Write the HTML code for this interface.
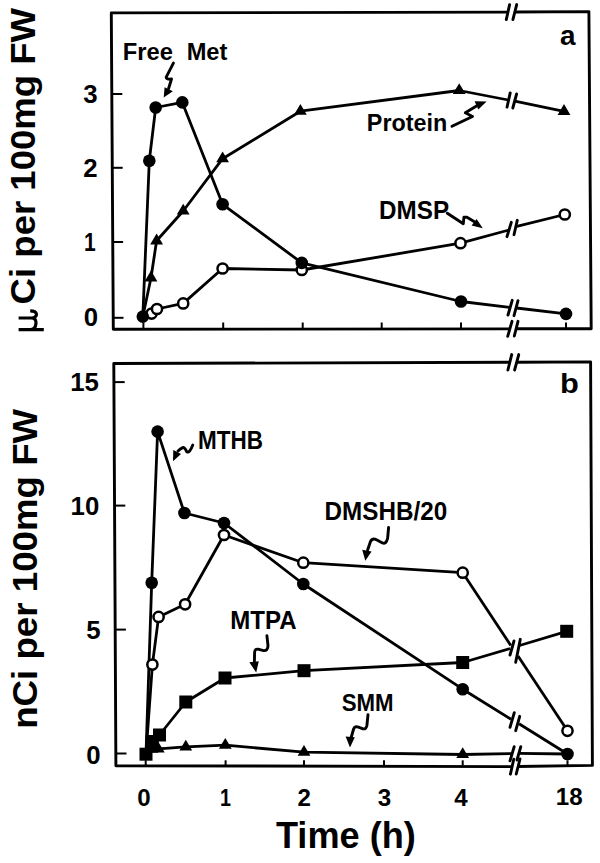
<!DOCTYPE html>
<html><head><meta charset="utf-8"><style>
html,body{margin:0;padding:0;background:#fff;}
svg{display:block;}
</style></head><body>
<svg width="600" height="863" viewBox="0 0 600 863">
<rect width="600" height="863" fill="#fff"/>
<polyline points="507.9,12.1 111.3,12.9 113.3,329.3 509.9,328.9" fill="none" stroke="#000" stroke-width="2.9" stroke-linejoin="round" stroke-linecap="butt"/>
<polyline points="514.8,12.0 588.9,11.6 591.2,328.7 516.2,328.7" fill="none" stroke="#000" stroke-width="2.9" stroke-linejoin="round" stroke-linecap="butt"/>
<line x1="509.6" y1="4.6" x2="506.3" y2="19.6" stroke="#000" stroke-width="2.9" stroke-linecap="round"/>
<line x1="516.7" y1="4.6" x2="512.9" y2="19.6" stroke="#000" stroke-width="2.9" stroke-linecap="round"/>
<line x1="512.0" y1="321.3" x2="507.7" y2="336.3" stroke="#000" stroke-width="2.9" stroke-linecap="round"/>
<line x1="518.0" y1="321.3" x2="514.3" y2="336.0" stroke="#000" stroke-width="2.9" stroke-linecap="round"/>
<line x1="111.8" y1="94.0" x2="122.3" y2="94.0" stroke="#000" stroke-width="2"/>
<line x1="112.2" y1="167.8" x2="122.7" y2="167.8" stroke="#000" stroke-width="2"/>
<line x1="112.6" y1="242.0" x2="123.1" y2="242.0" stroke="#000" stroke-width="2"/>
<line x1="113.0" y1="317.8" x2="123.5" y2="317.8" stroke="#000" stroke-width="2"/>
<line x1="143.4" y1="328.5" x2="143.4" y2="322.5" stroke="#000" stroke-width="2"/>
<line x1="223.2" y1="328.5" x2="223.2" y2="322.5" stroke="#000" stroke-width="2"/>
<line x1="302.7" y1="328.5" x2="302.7" y2="322.5" stroke="#000" stroke-width="2"/>
<line x1="381.7" y1="328.5" x2="381.7" y2="322.5" stroke="#000" stroke-width="2"/>
<line x1="461.0" y1="328.5" x2="461.0" y2="322.5" stroke="#000" stroke-width="2"/>
<line x1="566.0" y1="328.5" x2="566.0" y2="322.5" stroke="#000" stroke-width="2"/>
<polyline points="509.8,362.3 113.8,363.5 115.9,765.7 512.1,766.6" fill="none" stroke="#000" stroke-width="2.9" stroke-linejoin="round" stroke-linecap="butt"/>
<polyline points="516.7,362.2 590.6,361.9 592.4,765.4 518.1,766.5" fill="none" stroke="#000" stroke-width="2.9" stroke-linejoin="round" stroke-linecap="butt"/>
<line x1="511.7" y1="354.6" x2="507.9" y2="370.0" stroke="#000" stroke-width="2.9" stroke-linecap="round"/>
<line x1="518.75" y1="354.6" x2="514.6" y2="370.0" stroke="#000" stroke-width="2.9" stroke-linecap="round"/>
<line x1="513.75" y1="759.2" x2="510.4" y2="774.2" stroke="#000" stroke-width="2.9" stroke-linecap="round"/>
<line x1="520.0" y1="759.0" x2="516.25" y2="774.0" stroke="#000" stroke-width="2.9" stroke-linecap="round"/>
<line x1="114.2" y1="382.1" x2="124.7" y2="382.1" stroke="#000" stroke-width="2"/>
<line x1="114.8" y1="505.6" x2="125.3" y2="505.6" stroke="#000" stroke-width="2"/>
<line x1="115.4" y1="629.6" x2="125.9" y2="629.6" stroke="#000" stroke-width="2"/>
<line x1="116.0" y1="753.5" x2="126.5" y2="753.5" stroke="#000" stroke-width="2"/>
<line x1="145.7" y1="765.5" x2="145.7" y2="760.3" stroke="#000" stroke-width="2"/>
<line x1="225.6" y1="765.5" x2="225.6" y2="760.3" stroke="#000" stroke-width="2"/>
<line x1="304.0" y1="765.5" x2="304.0" y2="760.3" stroke="#000" stroke-width="2"/>
<line x1="384.0" y1="765.5" x2="384.0" y2="760.3" stroke="#000" stroke-width="2"/>
<line x1="462.7" y1="765.5" x2="462.7" y2="760.3" stroke="#000" stroke-width="2"/>
<line x1="567.5" y1="765.5" x2="567.5" y2="760.3" stroke="#000" stroke-width="2"/>
<polyline points="142.8,316.6 149.3,160.7 155.7,107.5 182.3,102.4 222.6,204.3 301.8,262.9 461.0,301.5 509.5,307.3" fill="none" stroke="#000" stroke-width="2.8" stroke-linejoin="round" stroke-linecap="butt"/>
<polyline points="516.5,308.0 566.0,313.9" fill="none" stroke="#000" stroke-width="2.8" stroke-linejoin="round" stroke-linecap="butt"/>
<line x1="512.2" y1="300.3" x2="508.0" y2="315.0" stroke="#000" stroke-width="2.9" stroke-linecap="round"/>
<line x1="518.0" y1="300.7" x2="514.0" y2="315.7" stroke="#000" stroke-width="2.9" stroke-linecap="round"/>
<polyline points="142.8,316.6 151.0,277.8 156.6,240.8 183.2,211.0 222.6,158.7 300.4,111.2 459.2,90.5 508.3,100.0" fill="none" stroke="#000" stroke-width="2.8" stroke-linejoin="round" stroke-linecap="butt"/>
<polyline points="514.8,101.2 564.0,111.3" fill="none" stroke="#000" stroke-width="2.8" stroke-linejoin="round" stroke-linecap="butt"/>
<line x1="510.2" y1="92.9" x2="507.0" y2="107.2" stroke="#000" stroke-width="2.9" stroke-linecap="round"/>
<line x1="516.6" y1="94.0" x2="512.8" y2="108.0" stroke="#000" stroke-width="2.9" stroke-linecap="round"/>
<polyline points="142.8,316.6 151.6,313.6 157.0,309.0 183.2,303.4 222.6,268.5 301.8,270.0 460.5,243.2 509.0,230.0" fill="none" stroke="#000" stroke-width="2.8" stroke-linejoin="round" stroke-linecap="butt"/>
<polyline points="515.8,226.6 564.8,214.5" fill="none" stroke="#000" stroke-width="2.8" stroke-linejoin="round" stroke-linecap="butt"/>
<line x1="511.3" y1="222.3" x2="507.0" y2="236.7" stroke="#000" stroke-width="2.9" stroke-linecap="round"/>
<line x1="517.3" y1="220.3" x2="514.0" y2="234.7" stroke="#000" stroke-width="2.9" stroke-linecap="round"/>
<circle cx="151.6" cy="313.6" r="5.1" fill="#fff" stroke="#000" stroke-width="2.5"/>
<circle cx="157.0" cy="309.0" r="5.1" fill="#fff" stroke="#000" stroke-width="2.5"/>
<circle cx="183.2" cy="303.4" r="5.1" fill="#fff" stroke="#000" stroke-width="2.5"/>
<circle cx="222.6" cy="268.5" r="5.1" fill="#fff" stroke="#000" stroke-width="2.5"/>
<circle cx="301.8" cy="270.0" r="5.1" fill="#fff" stroke="#000" stroke-width="2.5"/>
<circle cx="460.5" cy="243.2" r="5.1" fill="#fff" stroke="#000" stroke-width="2.5"/>
<circle cx="564.8" cy="214.5" r="5.1" fill="#fff" stroke="#000" stroke-width="2.5"/>
<polygon points="151.0,270.6 144.6,281.4 157.4,281.4" fill="#000"/>
<polygon points="156.6,233.6 150.2,244.4 163.0,244.4" fill="#000"/>
<polygon points="183.2,203.8 176.8,214.6 189.6,214.6" fill="#000"/>
<polygon points="222.6,151.5 216.2,162.3 229.0,162.3" fill="#000"/>
<polygon points="300.4,104.0 294.0,114.8 306.8,114.8" fill="#000"/>
<polygon points="459.2,83.3 452.8,94.1 465.6,94.1" fill="#000"/>
<polygon points="564.0,104.1 557.6,114.9 570.4,114.9" fill="#000"/>
<circle cx="142.8" cy="316.6" r="6.3" fill="#000"/>
<circle cx="149.3" cy="160.7" r="6.3" fill="#000"/>
<circle cx="155.7" cy="107.5" r="6.3" fill="#000"/>
<circle cx="182.3" cy="102.4" r="6.3" fill="#000"/>
<circle cx="222.6" cy="204.3" r="6.3" fill="#000"/>
<circle cx="301.8" cy="262.9" r="6.3" fill="#000"/>
<circle cx="461.0" cy="301.5" r="6.3" fill="#000"/>
<circle cx="566.0" cy="313.9" r="6.3" fill="#000"/>
<polyline points="146.0,754.0 151.7,582.8 157.6,431.6 184.4,513.0 224.0,523.0 303.3,584.0 462.7,689.2 511.0,719.3" fill="none" stroke="#000" stroke-width="2.8" stroke-linejoin="round" stroke-linecap="butt"/>
<polyline points="519.0,723.7 567.5,754.0" fill="none" stroke="#000" stroke-width="2.8" stroke-linejoin="round" stroke-linecap="butt"/>
<line x1="514.3" y1="712.7" x2="510.0" y2="727.3" stroke="#000" stroke-width="2.9" stroke-linecap="round"/>
<line x1="519.7" y1="716.3" x2="515.7" y2="730.7" stroke="#000" stroke-width="2.9" stroke-linecap="round"/>
<polyline points="146.0,754.0 152.4,664.6 158.6,616.9 185.1,604.3 224.0,535.0 303.3,562.7 462.7,572.7 510.8,645.5" fill="none" stroke="#000" stroke-width="2.8" stroke-linejoin="round" stroke-linecap="butt"/>
<polyline points="518.0,656.0 567.5,730.8" fill="none" stroke="#000" stroke-width="2.8" stroke-linejoin="round" stroke-linecap="butt"/>
<polyline points="146.0,754.2 152.3,741.5 159.5,735.0 185.8,702.0 225.0,678.0 304.0,670.7 462.7,662.5 510.0,648.5" fill="none" stroke="#000" stroke-width="2.8" stroke-linejoin="round" stroke-linecap="butt"/>
<polyline points="519.5,645.5 566.7,631.3" fill="none" stroke="#000" stroke-width="2.8" stroke-linejoin="round" stroke-linecap="butt"/>
<line x1="514.0" y1="641.0" x2="510.0" y2="655.0" stroke="#000" stroke-width="2.9" stroke-linecap="round"/>
<line x1="520.3" y1="639.3" x2="515.7" y2="662.3" stroke="#000" stroke-width="2.9" stroke-linecap="round"/>
<polyline points="146.0,754.0 152.0,749.2 158.3,748.9 185.8,746.9 225.3,745.2 304.0,752.2 462.7,754.5 512.0,753.6" fill="none" stroke="#000" stroke-width="2.8" stroke-linejoin="round" stroke-linecap="butt"/>
<polyline points="518.5,753.4 567.5,754.0" fill="none" stroke="#000" stroke-width="2.8" stroke-linejoin="round" stroke-linecap="butt"/>
<line x1="514.2" y1="746.7" x2="510.0" y2="760.8" stroke="#000" stroke-width="2.9" stroke-linecap="round"/>
<line x1="520.8" y1="746.7" x2="517.0" y2="760.0" stroke="#000" stroke-width="2.9" stroke-linecap="round"/>
<circle cx="152.4" cy="664.6" r="5.1" fill="#fff" stroke="#000" stroke-width="2.5"/>
<circle cx="158.6" cy="616.9" r="5.1" fill="#fff" stroke="#000" stroke-width="2.5"/>
<circle cx="185.1" cy="604.3" r="5.1" fill="#fff" stroke="#000" stroke-width="2.5"/>
<circle cx="224.0" cy="535.0" r="5.1" fill="#fff" stroke="#000" stroke-width="2.5"/>
<circle cx="303.3" cy="562.7" r="5.1" fill="#fff" stroke="#000" stroke-width="2.5"/>
<circle cx="462.7" cy="572.7" r="5.1" fill="#fff" stroke="#000" stroke-width="2.5"/>
<circle cx="567.5" cy="730.8" r="5.1" fill="#fff" stroke="#000" stroke-width="2.5"/>
<polygon points="152.0,742.0 145.6,752.8 158.4,752.8" fill="#000"/>
<polygon points="158.3,741.7 151.9,752.5 164.7,752.5" fill="#000"/>
<polygon points="185.8,739.7 179.4,750.5 192.2,750.5" fill="#000"/>
<polygon points="225.3,738.0 218.9,748.8 231.7,748.8" fill="#000"/>
<polygon points="304.0,745.0 297.6,755.8 310.4,755.8" fill="#000"/>
<polygon points="462.7,747.3 456.3,758.1 469.1,758.1" fill="#000"/>
<rect x="139.5" y="747.7" width="13" height="13" fill="#000"/>
<rect x="145.8" y="735.0" width="13" height="13" fill="#000"/>
<rect x="153.0" y="728.5" width="13" height="13" fill="#000"/>
<rect x="179.3" y="695.5" width="13" height="13" fill="#000"/>
<rect x="218.5" y="671.5" width="13" height="13" fill="#000"/>
<rect x="297.5" y="664.2" width="13" height="13" fill="#000"/>
<rect x="456.2" y="656.0" width="13" height="13" fill="#000"/>
<rect x="560.2" y="624.8" width="13" height="13" fill="#000"/>
<circle cx="151.7" cy="582.8" r="6.3" fill="#000"/>
<circle cx="157.6" cy="431.6" r="6.3" fill="#000"/>
<circle cx="184.4" cy="513.0" r="6.3" fill="#000"/>
<circle cx="224.0" cy="523.0" r="6.3" fill="#000"/>
<circle cx="303.3" cy="584.0" r="6.3" fill="#000"/>
<circle cx="462.7" cy="689.2" r="6.3" fill="#000"/>
<circle cx="567.5" cy="754.0" r="6.3" fill="#000"/>
<path d="M173.4,63.1 L166.2,77.2 Q166.5,79.5 171.5,79.0 L168.6,88.5" fill="none" stroke="#000" stroke-width="2.9" stroke-linejoin="round" stroke-linecap="round"/>
<polygon points="163.7,97.5 164.6,87.3 172.9,91.3" fill="#000"/>
<path d="M452.0,126.3 L472.5,116.5 L465.3,112.8 L476.5,106.0" fill="none" stroke="#000" stroke-width="2.9" stroke-linejoin="round" stroke-linecap="round"/>
<polygon points="474.6,101.3 486.6,101.6 478.3,109.6" fill="#000"/>
<path d="M447.3,213.3 L463.3,223.7 L463.9,217.3 L467.0,217.3 L474.0,221.5" fill="none" stroke="#000" stroke-width="2.9" stroke-linejoin="round" stroke-linecap="round"/>
<polygon points="471.6,225.4 476.6,219.0 482.8,228.2" fill="#000"/>
<path d="M192.8,445.0 Q189.5,453.5 186.8,451.8 Q184.5,447.0 182.6,447.6 Q180.5,448.5 178.0,451.0" fill="none" stroke="#000" stroke-width="2.9" stroke-linejoin="round" stroke-linecap="round"/>
<polygon points="173.3,450.0 181.0,453.9 173.0,461.3" fill="#000"/>
<path d="M388.6,527.5 L387.6,538.3 Q386.0,544.5 382.5,543.0 L376.5,539.8 Q372.5,537.8 370.5,541.5 L367.6,550.0" fill="none" stroke="#000" stroke-width="2.9" stroke-linejoin="round" stroke-linecap="round"/>
<polygon points="362.2,549.8 371.6,551.5 365.3,560.7" fill="#000"/>
<path d="M266.9,635.7 L268.0,645.6 Q268.0,651.0 263.5,650.6 L258.0,649.2 Q254.8,648.8 254.6,652.5 L254.4,661.5" fill="none" stroke="#000" stroke-width="2.9" stroke-linejoin="round" stroke-linecap="round"/>
<polygon points="249.3,662.2 258.8,661.3 256.2,672.6" fill="#000"/>
<path d="M368.0,714.7 L366.9,725.5 Q366.0,729.5 363.0,728.8 L358.5,727.2 Q354.8,725.8 353.6,729.0 L351.3,737.0" fill="none" stroke="#000" stroke-width="2.9" stroke-linejoin="round" stroke-linecap="round"/>
<polygon points="345.6,736.5 354.8,737.2 350.0,747.6" fill="#000"/>
<g font-family="Liberation Sans, sans-serif" font-weight="bold" fill="#000">
<text transform="translate(122.84,59.88) scale(0.9891,1)" font-size="23.964">Free</text>
<text transform="translate(186.65,59.87) scale(0.9588,1)" font-size="24.682">Met</text>
<text transform="translate(366.87,131.18) scale(0.997,1)" font-size="23.421">Protein</text>
<text transform="translate(379.11,218.65) scale(0.9248,1)" font-size="26.195">DMSP</text>
<text transform="translate(197.92,448.6) scale(0.8992,1)" font-size="25.018">MTHB</text>
<text transform="translate(324.61,519.93) scale(0.9381,1)" font-size="25.841">DMSHB/20</text>
<text transform="translate(230.22,629.3) scale(0.9612,1)" font-size="25.018">MTPA</text>
<text transform="translate(341.67,711.37) scale(0.9126,1)" font-size="24.388">SMM</text>
<text transform="translate(559.92,44.64) scale(1.0032,1)" font-size="27.794">a</text>
<text transform="translate(559.88,392.85) scale(1.1484,1)" font-size="26.826">b</text>
<text transform="translate(275.95,848.05) scale(1.0022,1)" font-size="36.067">Time (h)</text>
<text transform="translate(83.37,103.42) scale(0.98,1)" font-size="26.3">3</text>
<text transform="translate(83.29,177.16) scale(0.98,1)" font-size="26.3">2</text>
<text transform="translate(84.09,251.44) scale(0.8,1)" font-size="26.3">1</text>
<text transform="translate(83.73,326.34) scale(0.98,1)" font-size="26.3">0</text>
<text transform="translate(70.17,390.87) scale(0.98,1)" font-size="26.3">15</text>
<text transform="translate(70.61,514.67) scale(0.98,1)" font-size="26.3">10</text>
<text transform="translate(86.17,638.79) scale(0.98,1)" font-size="26.3">5</text>
<text transform="translate(86.33,763.92) scale(0.98,1)" font-size="26.3">0</text>
<text transform="translate(137.29,805.96) scale(0.98,1)" font-size="24.6">0</text>
<text transform="translate(219.94,806.08) scale(0.8,1)" font-size="24.6">1</text>
<text transform="translate(297.5,806.07) scale(0.98,1)" font-size="24.6">2</text>
<text transform="translate(377.82,805.96) scale(0.98,1)" font-size="24.6">3</text>
<text transform="translate(454.18,805.71) scale(0.98,1)" font-size="24.6">4</text>
<text transform="translate(555.76,805.46) scale(0.98,1)" font-size="24.6">18</text>
<text transform="translate(34.72,304.38) rotate(-90) scale(1.0383,1)" font-size="35.2">Ci per 100mg FW</text>
<text transform="translate(37.04,728.81) rotate(-90) scale(1.0455,1)" font-size="35.093">nCi per 100mg FW</text>
</g>
<path d="M18.6,329.6 L43.8,329.6 M18.6,318.0 L31.5,318.0 Q36.3,318.2 36.0,323.2 Q35.6,329.2 31.0,329.6 M32.0,318.0 Q36.8,317.4 36.4,313.8 Q35.8,311.0 30.2,310.9" fill="none" stroke="#000" stroke-width="3.2" stroke-linejoin="round" stroke-linecap="butt"/>
</svg>
</body></html>
